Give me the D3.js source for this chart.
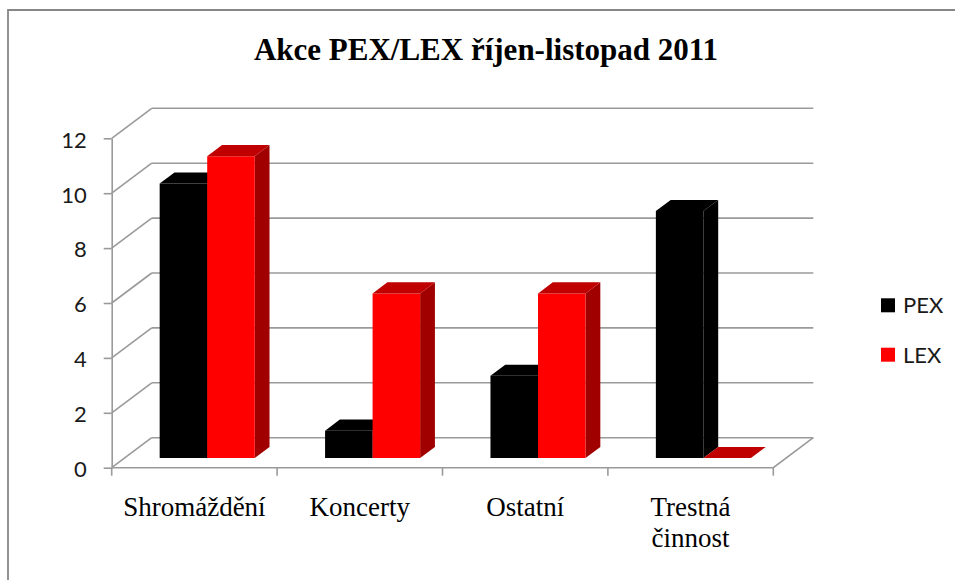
<!DOCTYPE html>
<html>
<head>
<meta charset="utf-8">
<script src="https://cdn.jsdelivr.net/npm/d3@7"></script>
<style>
  html, body { margin: 0; padding: 0; background: #fff; }
  svg { display: block; }
</style>
</head>
<body>
<svg id="chart" width="955" height="580"></svg>
<script>
// ---- data ----
const title = "Akce PEX/LEX říjen-listopad 2011";
const categories = ["Shromáždění", "Koncerty", "Ostatní", "Trestná činnost"];
const seriesNames = ["PEX", "LEX"];
const pexValues = [10, 1, 3, 9];
const lexValues = [11, 6, 6, 0];
const yTicks = [0, 2, 4, 6, 8, 10, 12];

// ---- styles ----
const palette = {
  PEX: { front: "#000000", top: "#000000", side: "#000000" },
  LEX: { front: "#ff0000", top: "#c00000", side: "#a00000" }
};
const gridColor = "#9a9a9a";

const svg = d3.select("#chart");

// border
svg.append("path")
  .attr("d", "M8,580 L8,10 L955,10")
  .attr("fill", "none").attr("stroke", "#878787").attr("stroke-width", 1.8);

// title
svg.append("text")
  .attr("x", 486).attr("y", 60)
  .attr("text-anchor", "middle")
  .attr("font-family", "'Liberation Serif', 'Times New Roman', serif")
  .attr("font-weight", "bold").attr("font-size", 31)
  .attr("fill", "#000")
  .text(title);

// ---- 3D projection ----
const DX = 40, DY = 30;           // full depth offset of the back wall
const F0 = 0.32, F1 = 0.69;       // bar front/back depth fractions
const x = d3.scaleBand().domain(categories).range([111.7, 773.3]);
const y = d3.scaleLinear().domain([0, 12]).range([467.7, 138.3]);
const inner = d3.scaleBand().domain(seriesNames).range([0, x.bandwidth()]).paddingInner(0).paddingOuter(0.74);

const P = (px, val, f) => [px + f * DX, y(val) - f * DY];

const grid = svg.append("g").attr("fill", "none").attr("stroke", gridColor).attr("stroke-width", 1.6);
const x0 = x.range()[0], x1 = x.range()[1];

// back wall horizontal gridlines + side wall diagonals
yTicks.forEach(t => {
  const a = P(x0, t, 1), b = P(x1, t, 1), c = P(x0, t, 0);
  grid.append("line").attr("x1", a[0]).attr("y1", a[1]).attr("x2", b[0]).attr("y2", b[1]);
  grid.append("line").attr("x1", c[0]).attr("y1", c[1]).attr("x2", a[0]).attr("y2", a[1]);
});
// floor front and right edges
{
  const fl = P(x0, 0, 0), fr = P(x1, 0, 0), br = P(x1, 0, 1);
  grid.append("path").attr("d", `M${fl}L${fr}L${br}`);
}

// y axis (front)
const yAxis = svg.append("g")
  .attr("transform", `translate(${x0},0)`)
  .call(d3.axisLeft(y).tickValues(yTicks).tickSize(8).tickSizeOuter(0).tickPadding(17));
yAxis.selectAll("path, line").attr("stroke", gridColor).attr("stroke-width", 1.6);
yAxis.selectAll("text")
  .attr("font-family", "Lato, 'Open Sans', sans-serif").attr("font-size", 22)
  .attr("fill", "#1a1a1a").attr("dy", "0.4em");

// category ticks at band boundaries
const bounds = categories.map(c => x(c)).concat([x1]);
svg.append("g").selectAll("line").data(bounds).join("line")
  .attr("x1", d => d).attr("x2", d => d)
  .attr("y1", y(0)).attr("y2", y(0) + 8)
  .attr("stroke", gridColor).attr("stroke-width", 1.6);

// category labels (multi-word labels wrapped when they nearly fill the band)
const labelG = svg.append("g")
  .attr("font-family", "'Liberation Serif', 'Times New Roman', serif")
  .attr("font-size", 27).attr("fill", "#000").attr("text-anchor", "middle");
categories.forEach(c => {
  const cx = x(c) + x.bandwidth() / 2;
  const t = labelG.append("text").attr("x", cx).attr("y", 515.5).text(c);
  const words = c.split(" ");
  if (words.length > 1 && t.node().getComputedTextLength() > 0.85 * x.bandwidth()) {
    t.text(null);
    words.forEach((w, i) => {
      t.append("tspan").attr("x", cx).attr("y", 515.5 + i * 31).text(w);
    });
  }
});

// ---- bars ----
const barsG = svg.append("g");
const dataRows = categories.map((c, i) => ({ cat: c, PEX: pexValues[i], LEX: lexValues[i] }));
dataRows.forEach(row => {
  seriesNames.forEach(s => {
    const v = row[s];
    const xl = x(row.cat) + inner(s);
    const xr = xl + inner.bandwidth();
    const col = palette[s];
    const fTL = P(xl, v, F0), fTR = P(xr, v, F0), fBR = P(xr, 0, F0), fBL = P(xl, 0, F0);
    const bTL = P(xl, v, F1), bTR = P(xr, v, F1), bBR = P(xr, 0, F1);
    const poly = pts => "M" + pts.map(p => p.join(",")).join("L") + "Z";
    if (v > 0) {
      barsG.append("path").attr("d", poly([fTR, bTR, bBR, fBR])).attr("fill", col.side);
      barsG.append("path").attr("d", poly([fTL, fTR, fBR, fBL])).attr("fill", col.front);
    }
    barsG.append("path").attr("d", poly([fTL, fTR, bTR, bTL])).attr("fill", col.top);
  });
});

// ---- legend ----
const legend = svg.append("g");
seriesNames.forEach((s, i) => {
  const gy = 298.3 + i * 49.4;
  legend.append("rect").attr("x", 881).attr("y", gy).attr("width", 14).attr("height", 14)
    .attr("fill", palette[s].front);
  legend.append("text").attr("x", 903).attr("y", gy + 15)
    .attr("font-family", "Lato, 'Open Sans', sans-serif").attr("font-size", 22)
    .attr("fill", "#1a1a1a").text(s);
});
</script>
</body>
</html>
